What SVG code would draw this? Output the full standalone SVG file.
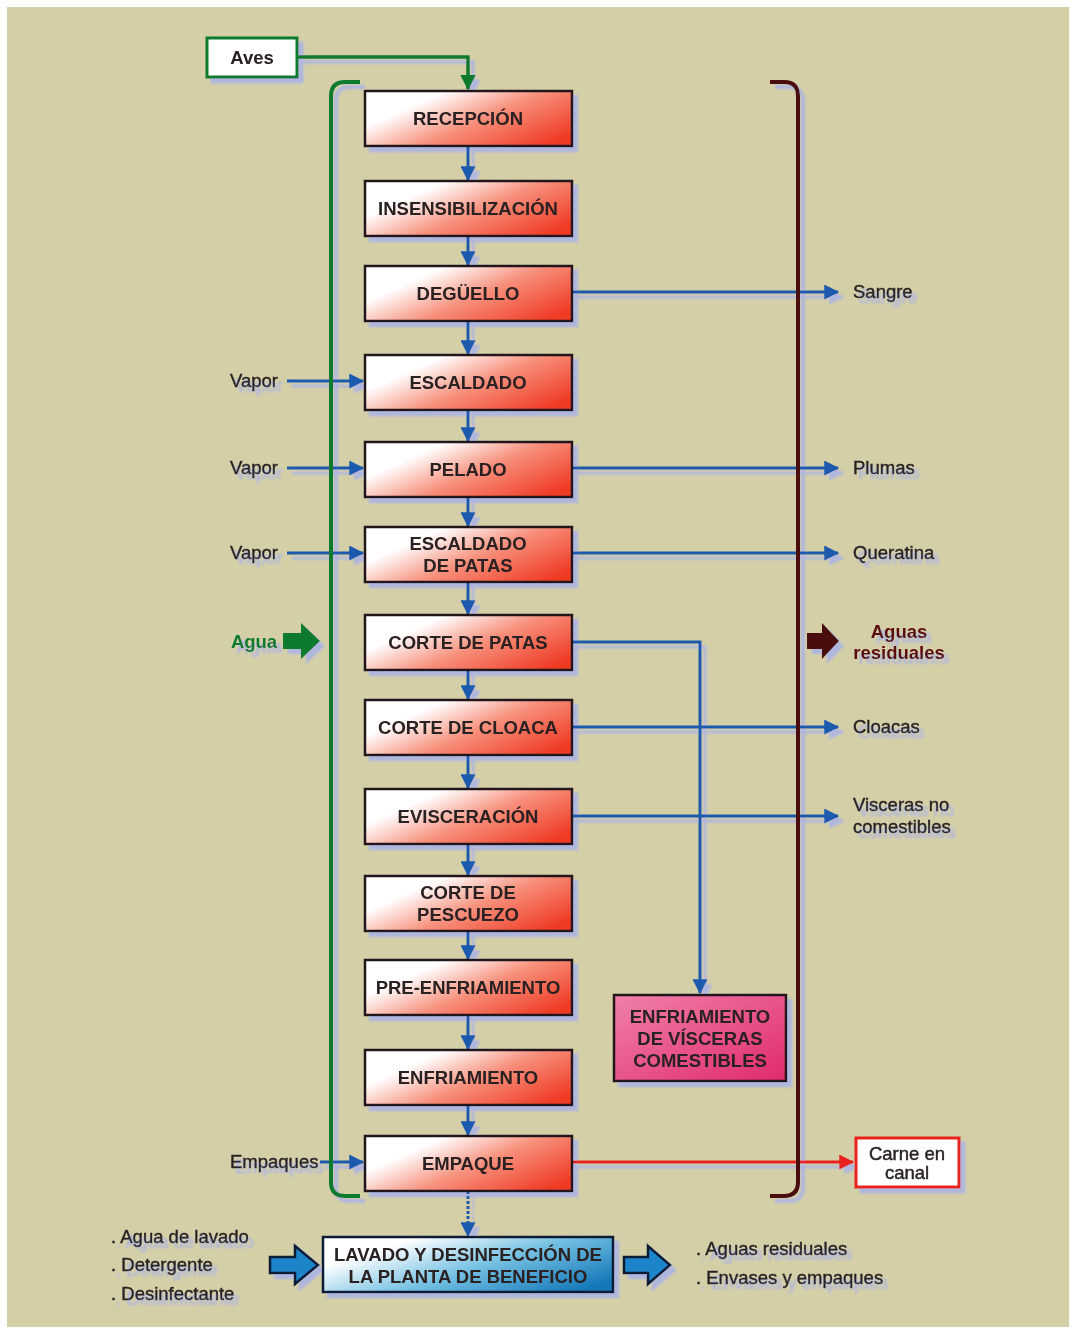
<svg xmlns="http://www.w3.org/2000/svg" width="1076" height="1334" viewBox="0 0 1076 1334">
  <style>
    .box { stroke: #24191a; stroke-width: 2.5; fill: url(#gRed); }
    .t { font-family: "Liberation Sans", Arial, sans-serif; font-size: 18.5px; fill: #2a2323; stroke: #2a2323; stroke-width: 0.45; }
    .tb { font-family: "Liberation Sans", Arial, sans-serif; font-size: 18.5px; font-weight: bold; fill: #2a2020; text-anchor: middle; }
    .flow { stroke: #1a5aae; stroke-width: 3; fill: none; marker-end: url(#aBlue); }
  </style>
  <defs>
    <linearGradient id="gRed" x1="0" y1="0.2" x2="1" y2="0.8">
      <stop offset="0" stop-color="#ffffff"/>
      <stop offset="0.2" stop-color="#ffffff"/>
      <stop offset="0.55" stop-color="#f7907c"/>
      <stop offset="1" stop-color="#ef3a24"/>
    </linearGradient>
    <linearGradient id="gPink" x1="0" y1="0" x2="1" y2="1">
      <stop offset="0" stop-color="#f080aa"/>
      <stop offset="1" stop-color="#e02a6c"/>
    </linearGradient>
    <linearGradient id="gBlue" x1="0" y1="0.2" x2="1" y2="0.8">
      <stop offset="0" stop-color="#ffffff"/>
      <stop offset="0.15" stop-color="#ffffff"/>
      <stop offset="0.55" stop-color="#74c0e2"/>
      <stop offset="1" stop-color="#1478b8"/>
    </linearGradient>
    <marker id="aBlue" viewBox="0 0 12 12" refX="11" refY="6" markerWidth="5" markerHeight="5" markerUnits="strokeWidth" orient="auto">
      <path d="M0,0 L12,6 L0,12 z" fill="#1a5aae"/>
    </marker>
    <marker id="aGreen" viewBox="0 0 12 12" refX="11" refY="6" markerWidth="4.5" markerHeight="4.5" markerUnits="strokeWidth" orient="auto">
      <path d="M0,0 L12,6 L0,12 z" fill="#0e7a2e"/>
    </marker>
    <marker id="aRed" viewBox="0 0 12 12" refX="11" refY="6" markerWidth="5" markerHeight="5" markerUnits="strokeWidth" orient="auto">
      <path d="M0,0 L12,6 L0,12 z" fill="#e8201a"/>
    </marker>
    <filter id="sh" x="-5%" y="-5%" width="110%" height="110%">
      <feDropShadow dx="5" dy="5" stdDeviation="0.8" flood-color="#a9b2e6" flood-opacity="0.85"/>
    </filter>
  </defs>

  <!-- page -->
  <rect x="0" y="0" width="1076" height="1334" fill="#ffffff"/>
  <rect x="7" y="7" width="1062" height="1320" fill="#d5cfa8"/>

  <g filter="url(#sh)">
    <!-- connectors -->
    <g id="connectors">
      <!-- main flow -->
      <path class="flow" d="M468,146 V180"/>
      <path class="flow" d="M468,236 V265"/>
      <path class="flow" d="M468,321 V354"/>
      <path class="flow" d="M468,410 V441"/>
      <path class="flow" d="M468,497 V526"/>
      <path class="flow" d="M468,582 V614"/>
      <path class="flow" d="M468,670 V699"/>
      <path class="flow" d="M468,755 V788"/>
      <path class="flow" d="M468,844 V875"/>
      <path class="flow" d="M468,931 V959"/>
      <path class="flow" d="M468,1015 V1049"/>
      <path class="flow" d="M468,1105 V1135"/>
      <path class="flow" d="M468,1191 V1236" stroke-dasharray="3 2"/>
      <!-- inputs -->
      <path class="flow" d="M287,381 H363"/>
      <path class="flow" d="M287,468 H363"/>
      <path class="flow" d="M287,553 H363"/>
      <path class="flow" d="M320,1162 H363"/>
      <!-- outputs -->
      <path class="flow" d="M572,292 H838"/>
      <path class="flow" d="M572,468 H838"/>
      <path class="flow" d="M572,553 H838"/>
      <path class="flow" d="M572,727 H838"/>
      <path class="flow" d="M572,816 H838"/>
      <path class="flow" d="M572,642 H700 V993"/>
      <path d="M572,1162 H853" stroke="#e8201a" stroke-width="3" fill="none" marker-end="url(#aRed)"/>
      <!-- Aves feed -->
      <path d="M297,57 H468 V89" stroke="#0e7a2e" stroke-width="3.5" fill="none" marker-end="url(#aGreen)"/>
      <!-- water bracket -->
      <path d="M360,82 H345 Q331,82 331,96 V1182 Q331,1196 345,1196 H360" stroke="#0e7a2e" stroke-width="4" fill="none"/>
      <!-- wastewater bracket -->
      <path d="M770,82 H784 Q798,82 798,96 V1182 Q798,1196 784,1196 H770" stroke="#4a0808" stroke-width="4" fill="none"/>
      <!-- block arrows -->
      <path d="M283,633 H301 V623 L320,641 L301,659 V649 H283 z" fill="#0e7a2e"/>
      <path d="M807,633 H822 V623 L839,641 L822,659 V649 H807 z" fill="#4a0808"/>
      <path d="M270,1257 H295 V1246 L318,1265 L295,1284 V1273 H270 z" fill="#1e84c8" stroke="#0d1a36" stroke-width="2.5"/>
      <path d="M624,1257 H648 V1246 L670,1265 L648,1284 V1273 H624 z" fill="#1e84c8" stroke="#0d1a36" stroke-width="2.5"/>
    </g>

    <!-- source -->
    <g id="aves">
      <rect x="207" y="38" width="90" height="39" fill="#ffffff" stroke="#0e7a2e" stroke-width="3"/>
      <text class="tb" x="252" y="64">Aves</text>
    </g>

    <!-- process steps -->
    <g id="recepcion"><rect class="box" x="365" y="91" width="207" height="55"/><text class="tb" x="468" y="125">RECEPCIÓN</text></g>
    <g id="insensibilizacion"><rect class="box" x="365" y="181" width="207" height="55"/><text class="tb" x="468" y="215">INSENSIBILIZACIÓN</text></g>
    <g id="deguello"><rect class="box" x="365" y="266" width="207" height="55"/><text class="tb" x="468" y="300">DEGÜELLO</text></g>
    <g id="escaldado"><rect class="box" x="365" y="355" width="207" height="55"/><text class="tb" x="468" y="389">ESCALDADO</text></g>
    <g id="pelado"><rect class="box" x="365" y="442" width="207" height="55"/><text class="tb" x="468" y="476">PELADO</text></g>
    <g id="escaldado-patas"><rect class="box" x="365" y="527" width="207" height="55"/><text class="tb" x="468" y="550">ESCALDADO</text><text class="tb" x="468" y="572">DE PATAS</text></g>
    <g id="corte-patas"><rect class="box" x="365" y="615" width="207" height="55"/><text class="tb" x="468" y="649">CORTE DE PATAS</text></g>
    <g id="corte-cloaca"><rect class="box" x="365" y="700" width="207" height="55"/><text class="tb" x="468" y="734">CORTE DE CLOACA</text></g>
    <g id="evisceracion"><rect class="box" x="365" y="789" width="207" height="55"/><text class="tb" x="468" y="823">EVISCERACIÓN</text></g>
    <g id="corte-pescuezo"><rect class="box" x="365" y="876" width="207" height="55"/><text class="tb" x="468" y="899">CORTE DE</text><text class="tb" x="468" y="921">PESCUEZO</text></g>
    <g id="pre-enfriamiento"><rect class="box" x="365" y="960" width="207" height="55"/><text class="tb" x="468" y="994">PRE-ENFRIAMIENTO</text></g>
    <g id="enfriamiento"><rect class="box" x="365" y="1050" width="207" height="55"/><text class="tb" x="468" y="1084">ENFRIAMIENTO</text></g>
    <g id="empaque"><rect class="box" x="365" y="1136" width="207" height="55"/><text class="tb" x="468" y="1170">EMPAQUE</text></g>

    <g id="enfriamiento-visceras">
      <rect x="614" y="995" width="172" height="86" fill="url(#gPink)" stroke="#24191a" stroke-width="2.5"/>
      <text class="tb" x="700" y="1023">ENFRIAMIENTO</text>
      <text class="tb" x="700" y="1045">DE VÍSCERAS</text>
      <text class="tb" x="700" y="1067">COMESTIBLES</text>
    </g>

    <g id="carne-canal">
      <rect x="856" y="1138" width="103" height="49" fill="#ffffff" stroke="#e8201a" stroke-width="3"/>
      <text class="t" x="907" y="1160" text-anchor="middle">Carne en</text>
      <text class="t" x="907" y="1179" text-anchor="middle">canal</text>
    </g>

    <g id="lavado">
      <rect x="323" y="1237" width="290" height="55" fill="url(#gBlue)" stroke="#0d1a36" stroke-width="2.5"/>
      <text class="tb" x="468" y="1261">LAVADO Y DESINFECCIÓN DE</text>
      <text class="tb" x="468" y="1283">LA PLANTA DE BENEFICIO</text>
    </g>

    <!-- inputs -->
    <g id="entradas">
      <text class="t" x="230" y="387">Vapor</text>
      <text class="t" x="230" y="474">Vapor</text>
      <text class="t" x="230" y="559">Vapor</text>
      <text class="tb" x="254" y="648" style="fill:#0e7a2e">Agua</text>
      <text class="t" x="230" y="1168">Empaques</text>
      <text class="t" x="111" y="1243">. Agua de lavado</text>
      <text class="t" x="111" y="1271">. Detergente</text>
      <text class="t" x="111" y="1300">. Desinfectante</text>
    </g>

    <!-- outputs -->
    <g id="salidas">
      <text class="t" x="853" y="298">Sangre</text>
      <text class="t" x="853" y="474">Plumas</text>
      <text class="t" x="853" y="559">Queratina</text>
      <text class="tb" x="899" y="638" style="fill:#5a0810">Aguas</text>
      <text class="tb" x="899" y="659" style="fill:#5a0810">residuales</text>
      <text class="t" x="853" y="733">Cloacas</text>
      <text class="t" x="853" y="811">Visceras no</text>
      <text class="t" x="853" y="833">comestibles</text>
      <text class="t" x="696" y="1255">. Aguas residuales</text>
      <text class="t" x="696" y="1284">. Envases y empaques</text>
    </g>
  </g>
</svg>
